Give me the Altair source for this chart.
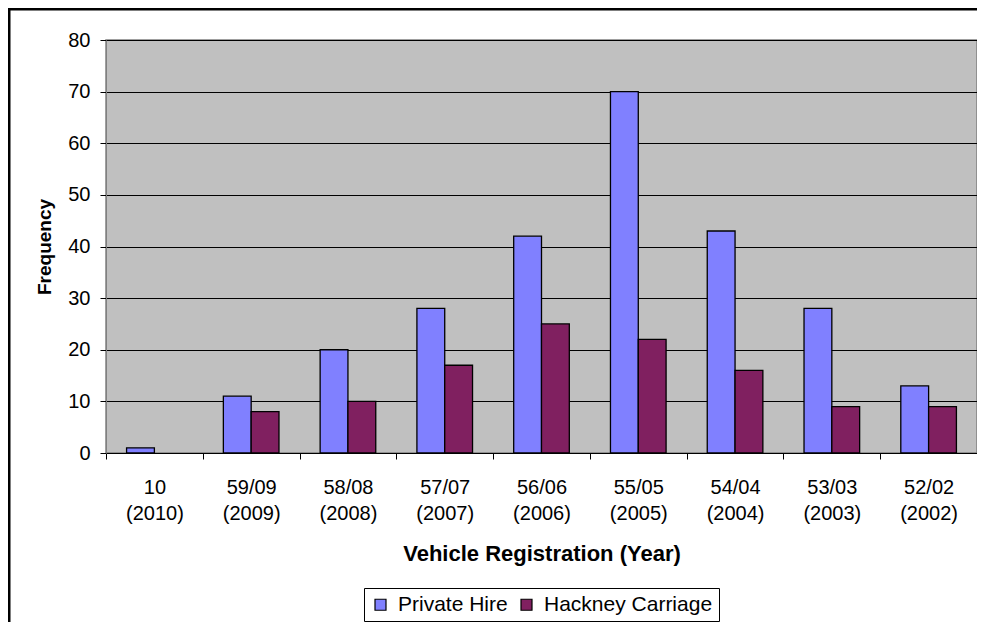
import altair as alt
import pandas as pd

categories = ["10 (2010)", "59/09 (2009)", "58/08 (2008)", "57/07 (2007)", "56/06 (2006)",
              "55/05 (2005)", "54/04 (2004)", "53/03 (2003)", "52/02 (2002)"]
private_hire = [1, 11, 20, 28, 42, 70, 43, 28, 13]
hackney = [0, 8, 10, 17, 25, 22, 16, 9, 9]
series = ["Private Hire", "Hackney Carriage"]
colors = ["#8080FF", "#802060"]

rows = []
for c, p, h in zip(categories, private_hire, hackney):
    rows.append({"cat": c, "series": series[0], "value": p})
    rows.append({"cat": c, "series": series[1], "value": h})
df = pd.DataFrame(rows)

FONT = "Liberation Sans"
W, H = 871, 413
PL, PT = 98, 32
PB = 614 - PT - H

bars = alt.Chart(df).transform_filter("datum.value > 0").mark_bar(
    stroke="black", strokeWidth=1.3
).encode(
    x=alt.X("cat:N", sort=categories,
            scale=alt.Scale(paddingInner=0, paddingOuter=0),
            axis=alt.Axis(title="Vehicle Registration (Year)", labelAngle=0,
                          labelExpr="split(datum.label, ' ')",
                          tickBand="extent", tickSize=6, tickColor="black",
                          domainColor="black", labelFontSize=20, labelFont=FONT,
                          labelColor="black", labelPadding=18, labelLineHeight=26,
                          titleFont=FONT, titleFontSize=22, titleFontWeight="bold",
                          titleColor="black", titlePadding=20, grid=False)),
    xOffset=alt.XOffset("series:N", sort=series,
                        scale=alt.Scale(paddingInner=0, paddingOuter=0.74)),
    y=alt.Y("value:Q", scale=alt.Scale(domain=[0, 80]),
            axis=alt.Axis(title="Frequency", values=list(range(0, 81, 10)),
                          tickSize=6, tickColor="black", domainColor="#808080",
                          labelFontSize=20, labelFont=FONT, labelColor="black",
                          labelPadding=10, titleFont=FONT, titleFontSize=19,
                          titleFontWeight="bold", titleColor="black", titlePadding=13,
                          grid=True, gridColor="black", gridWidth=1.1)),
    color=alt.Color("series:N", sort=series,
                    scale=alt.Scale(domain=series, range=colors),
                    legend=alt.Legend(title=None, orient="none", direction="horizontal",
                                      legendX=258, legendY=548,
                                      strokeColor="black", fillColor="white",
                                      padding=6, symbolType="square", symbolSize=121,
                                      symbolStrokeColor="black", symbolStrokeWidth=1.2,
                                      labelFont=FONT, labelFontSize=21, labelColor="black",
                                      labelLimit=0, columnPadding=8, labelOffset=7)),
)

frame_top = alt.Chart(pd.DataFrame({"k": [0]})).mark_rule(color="black", strokeWidth=3, clip=False).encode(
    x=alt.value(-PL), x2=alt.value(W + 10), y=alt.value(-PT + 1)
)
frame_left = alt.Chart(pd.DataFrame({"k": [0]})).mark_rule(color="black", strokeWidth=3, clip=False).encode(
    x=alt.value(-PL + 1), y=alt.value(-PT), y2=alt.value(H + PB)
)

chart = alt.layer(bars, frame_top, frame_left).properties(
    width=W, height=H,
    autosize=alt.AutoSizeParams(type="none"),
    padding={"left": PL, "top": PT, "right": 0, "bottom": PB},
    background="white",
).configure_view(fill="#C0C0C0", stroke="#808080", strokeWidth=1.5)

chart.save("out.html", embed_options={"renderer": "svg", "actions": False})
